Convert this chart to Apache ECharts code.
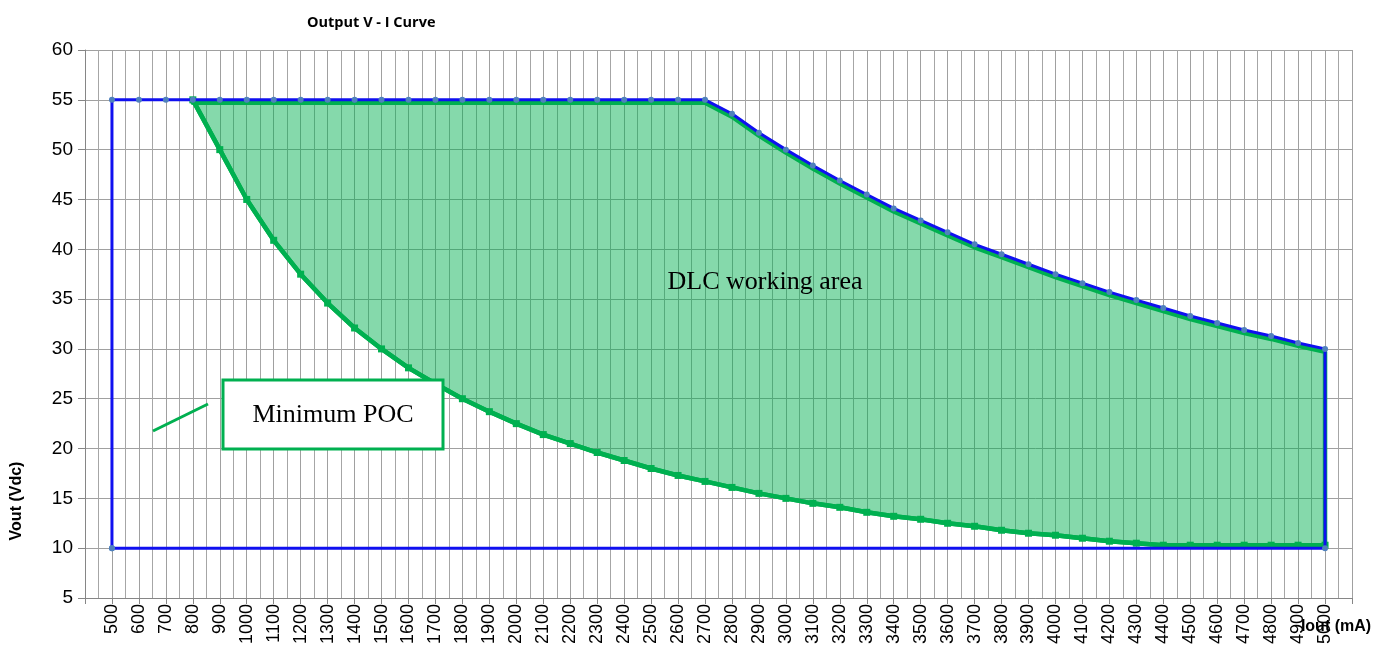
<!DOCTYPE html>
<html>
<head>
<meta charset="utf-8">
<title>Output V - I Curve</title>
<script src="https://cdn.jsdelivr.net/npm/echarts/dist/echarts.min.js"></script>
<style>
  html, body { margin: 0; padding: 0; background: #fff; }
  #main { width: 1393px; height: 648px; }
</style>
</head>
<body>
<div id="main"></div>
<script>
// blue outline: current (mA) and voltage (V) of the max limit
var blueI = [500, 500, 600, 700, 800, 900, 1000, 1100, 1200, 1300, 1400, 1500, 1600, 1700, 1800, 1900,
  2000, 2100, 2200, 2300, 2400, 2500, 2600, 2700, 2800, 2900, 3000, 3100, 3200, 3300, 3400, 3500,
  3600, 3700, 3800, 3900, 4000, 4100, 4200, 4300, 4400, 4500, 4600, 4700, 4800, 4900, 5000, 5000, 500];
var blueV = [10, 55, 55, 55, 55, 55, 55, 55, 55, 55, 55, 55, 55, 55, 55, 55,
  55, 55, 55, 55, 55, 55, 55, 55, 53.6, 51.7, 50, 48.4, 46.9, 45.5, 44.1, 42.9,
  41.7, 40.5, 39.5, 38.5, 37.5, 36.6, 35.7, 34.9, 34.1, 33.3, 32.6, 31.9, 31.3, 30.6, 30, 10, 10];

// green working area (DLC)
var greenI = [800, 900, 1000, 1100, 1200, 1300, 1400, 1500, 1600, 1700, 1800, 1900, 2000, 2100, 2200,
  2300, 2400, 2500, 2600, 2700, 2800, 2900, 3000, 3100, 3200, 3300, 3400, 3500, 3600, 3700, 3800,
  3900, 4000, 4100, 4200, 4300, 4400, 4500, 4600, 4700, 4800, 4900, 5000];
var greenUpper = [54.7, 54.7, 54.7, 54.7, 54.7, 54.7, 54.7, 54.7, 54.7, 54.7, 54.7, 54.7, 54.7, 54.7, 54.7,
  54.7, 54.7, 54.7, 54.7, 54.7, 53.3, 51.4, 49.7, 48.1, 46.6, 45.2, 43.8, 42.6, 41.4, 40.2, 39.2,
  38.2, 37.2, 36.3, 35.4, 34.6, 33.8, 33.0, 32.3, 31.6, 31.0, 30.3, 29.7];
var greenLower = [55, 50, 45, 40.9, 37.5, 34.6, 32.1, 30, 28.1, 26.5, 25, 23.7, 22.5, 21.4, 20.5,
  19.6, 18.8, 18.0, 17.3, 16.7, 16.1, 15.5, 15.0, 14.5, 14.1, 13.6, 13.2, 12.9, 12.5, 12.2, 11.8,
  11.5, 11.3, 11.0, 10.7, 10.5, 10.3, 10.3, 10.3, 10.3, 10.3, 10.3, 10.3];

// tick labels
var xTickFirst = 500, xTickLast = 5000;
var yMin = 5, yMax = 60, yStep = 5;

function pairs(xs, ys) {
  var out = [];
  for (var i = 0; i < xs.length; i++) out.push([xs[i], ys[i]]);
  return out;
}

var myChart = echarts.init(document.getElementById('main'));

var option = {
  animation: false,
  title: {
    text: 'Output V - I Curve',
    left: 302,
    top: 10,
    textStyle: { fontFamily: 'Open Sans', fontWeight: 'bold', fontSize: 14.5, color: '#000' }
  },
  grid: { left: 85, top: 50, right: 41, bottom: 50, containLabel: false },
  xAxis: {
    type: 'value',
    min: 400,
    max: 5100,
    interval: 100,
    axisLine: { lineStyle: { color: '#868686', width: 1 } },
    axisTick: { show: true, length: 6, lineStyle: { color: '#868686' } },
    axisLabel: {
      rotate: 90,
      margin: 6,
      fontFamily: 'Liberation Sans',
      fontSize: 18,
      color: '#000',
      showMinLabel: true,
      showMaxLabel: true,
      formatter: function (v) {
        return (v >= xTickFirst && v <= xTickLast) ? String(v) : '';
      }
    },
    splitLine: { show: true, lineStyle: { color: '#a0a0a0', width: 1 } },
    minorTick: { show: false, splitNumber: 2 },
    minorSplitLine: { show: true, lineStyle: { color: '#a6a6a6', width: 1 } }
  },
  yAxis: {
    type: 'value',
    min: yMin,
    max: yMax,
    interval: yStep,
    axisLine: { show: true, lineStyle: { color: '#868686', width: 1 } },
    axisTick: { show: true, length: 7, lineStyle: { color: '#868686' } },
    axisLabel: { fontFamily: 'Liberation Sans', fontSize: 19, color: '#000', margin: 12 },
    splitLine: { show: true, lineStyle: { color: '#a0a0a0', width: 1 } }
  },
  graphic: [
    {
      type: 'text', x: 17, y: 501, rotation: Math.PI / 2,
      style: { text: 'Vout (Vdc)', fontFamily: 'Liberation Sans', fontWeight: 'bold', fontSize: 16,
        fill: '#000', align: 'center', verticalAlign: 'middle' }
    },
    {
      type: 'text', x: 1336, y: 627,
      style: { text: 'Iout (mA)', fontFamily: 'Liberation Sans', fontWeight: 'bold', fontSize: 16,
        fill: '#000', align: 'center', verticalAlign: 'middle' }
    },
    {
      type: 'text', x: 765, y: 282, z: 10,
      style: { text: 'DLC working area', fontFamily: 'Liberation Serif', fontSize: 26,
        fill: '#000', align: 'center', verticalAlign: 'middle' }
    },
    {
      type: 'line', z: 10,
      shape: { x1: 153, y1: 431, x2: 208, y2: 404 },
      style: { stroke: '#00b050', lineWidth: 3 }
    },
    {
      type: 'rect', z: 10,
      shape: { x: 223, y: 380, width: 220, height: 69 },
      style: { fill: '#fff', stroke: '#00b050', lineWidth: 3 }
    },
    {
      type: 'text', x: 333, y: 415, z: 11,
      style: { text: 'Minimum POC', fontFamily: 'Liberation Serif', fontSize: 26,
        fill: '#000', align: 'center', verticalAlign: 'middle' }
    }
  ],
  series: [
    {
      name: 'DLC area',
      type: 'custom',
      z: 2,
      clip: false,
      data: [[greenI[0], greenUpper[0]]],
      renderItem: function (params, api) {
        var pts = [];
        var i;
        for (i = 0; i < greenI.length; i++) pts.push(api.coord([greenI[i], greenUpper[i]]));
        for (i = greenI.length - 1; i >= 0; i--) pts.push(api.coord([greenI[i], greenLower[i]]));
        return {
          type: 'polygon',
          shape: { points: pts },
          style: { fill: 'rgba(0,176,80,0.48)', stroke: '#00b050', lineWidth: 4.5, lineJoin: 'round' }
        };
      }
    },
    {
      name: 'Minimum POC',
      type: 'line',
      z: 3,
      data: pairs(greenI, greenLower),
      symbol: 'rect',
      symbolSize: 7,
      itemStyle: { color: '#00b050' },
      lineStyle: { color: '#00b050', width: 4.5 }
    },
    {
      name: 'Max',
      type: 'line',
      z: 4,
      data: pairs(blueI, blueV),
      symbol: 'circle',
      symbolSize: 6,
      itemStyle: { color: '#4f81bd' },
      lineStyle: { color: '#1010f0', width: 3 }
    }
  ]
};

myChart.setOption(option);
</script>
</body>
</html>
